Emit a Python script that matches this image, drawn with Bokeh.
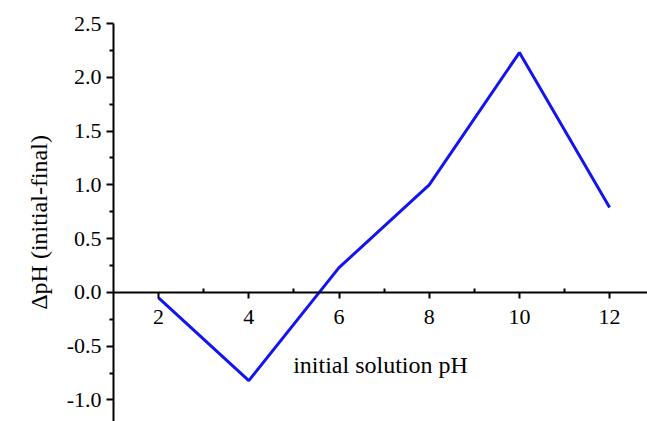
from bokeh.plotting import figure
from bokeh.models import LinearAxis, Range1d, FixedTicker, NumeralTickFormatter
from bokeh.embed import file_html
from bokeh.resources import INLINE

initial_ph = [2, 4, 6, 8, 10, 12]
delta_ph = [-0.05, -0.82, 0.23, 1.00, 2.23, 0.79]
x_ticks = [2, 4, 6, 8, 10, 12]
x_minor = [3, 5, 7, 9, 11]
y_ticks = [-1.0, -0.5, 0.0, 0.5, 1.0, 1.5, 2.0, 2.5]

FONT = "Liberation Serif, serif"

p = figure(width=647, height=421, output_backend="svg", toolbar_location=None,
           x_axis_type=None, y_axis_type=None,
           x_range=Range1d(1, 12.84), y_range=Range1d(-1.2, 2.5),
           min_border_left=113, min_border_right=0, min_border_top=23, min_border_bottom=0)
p.outline_line_color = None
p.xgrid.visible = False
p.ygrid.visible = False
p.background_fill_color = "white"

yaxis = LinearAxis(ticker=FixedTicker(ticks=y_ticks,
                                      minor_ticks=[v + 0.25 for v in y_ticks] + [-1.25]),
                   axis_label="\u0394pH (initial-final)")
yaxis.formatter = NumeralTickFormatter(format="0.0")
yaxis.axis_line_width = 2
yaxis.major_tick_line_width = 2
yaxis.minor_tick_line_width = 2
yaxis.major_tick_out = 7
yaxis.major_tick_in = 0
yaxis.minor_tick_out = 4
yaxis.minor_tick_in = 0
yaxis.major_label_text_font = FONT
yaxis.major_label_text_font_size = "22px"
yaxis.major_label_text_color = "black"
yaxis.major_label_standoff = 5
yaxis.axis_label_text_font = FONT
yaxis.axis_label_text_font_size = "24px"
yaxis.axis_label_text_font_style = "normal"
yaxis.axis_label_text_color = "black"
yaxis.axis_label_standoff = 12
p.add_layout(yaxis, "left")

xaxis = LinearAxis(ticker=FixedTicker(ticks=x_ticks, minor_ticks=x_minor),
                   fixed_location=0, axis_label="initial solution pH")
xaxis.axis_line_width = 2
xaxis.major_tick_line_width = 2
xaxis.minor_tick_line_width = 2
xaxis.major_tick_out = 6
xaxis.major_tick_in = 0
xaxis.minor_tick_out = 0
xaxis.minor_tick_in = 4
xaxis.major_label_text_font = FONT
xaxis.major_label_text_font_size = "22px"
xaxis.major_label_text_color = "black"
xaxis.major_label_standoff = 12
xaxis.axis_label_text_font = FONT
xaxis.axis_label_text_font_size = "24px"
xaxis.axis_label_text_font_style = "normal"
xaxis.axis_label_text_color = "black"
xaxis.axis_label_standoff = 24
p.add_layout(xaxis, "below")

p.line(initial_ph, delta_ph, line_color="#1414f0", line_width=3)

open("out.html", "w").write(file_html(p, INLINE))
